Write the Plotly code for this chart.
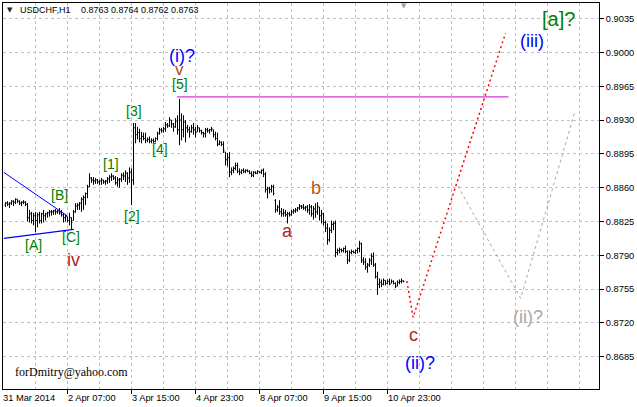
import plotly.graph_objects as go

# ---------------- data ----------------
SYMBOL = "USDCHF,H1"
LAST_QUOTE = "0.8763 0.8764 0.8762 0.8763"

# H1 bars, index 0 = 1 Apr 2014 00:00
OPEN = [
    0.8842, 0.8844, 0.8843, 0.8844, 0.8846, 0.8845, 0.8848, 0.8846, 0.8844, 0.8845,
    0.8845, 0.8843, 0.8829, 0.8833, 0.8826, 0.8831, 0.8826, 0.8832, 0.8826, 0.8833,
    0.8831, 0.8833, 0.8834, 0.8835, 0.8835, 0.8836, 0.8835, 0.8836, 0.8834, 0.8832,
    0.8829, 0.8830, 0.8826, 0.8829, 0.8826, 0.8835, 0.8841, 0.8842, 0.8844, 0.8848,
    0.8850, 0.8854, 0.8861, 0.8870, 0.8868, 0.8867, 0.8868, 0.8866, 0.8867, 0.8868,
    0.8866, 0.8867, 0.8869, 0.8871, 0.8872, 0.8870, 0.8865, 0.8868, 0.8869, 0.8873,
    0.8872, 0.8875, 0.8870, 0.8876, 0.8868, 0.8922, 0.8915, 0.8917, 0.8911, 0.8913,
    0.8911, 0.8909, 0.8910, 0.8908, 0.8909, 0.8908, 0.8911, 0.8916, 0.8920, 0.8919,
    0.8921, 0.8925, 0.8924, 0.8930, 0.8926, 0.8923, 0.8929, 0.8920, 0.8930, 0.8920,
    0.8928, 0.8922, 0.8920, 0.8918, 0.8922, 0.8920, 0.8918, 0.8922, 0.8919, 0.8917,
    0.8916, 0.8920, 0.8919, 0.8920, 0.8920, 0.8915, 0.8911, 0.8905, 0.8907, 0.8905,
    0.8897, 0.8889, 0.8891, 0.8876, 0.8878, 0.8880, 0.8883, 0.8877, 0.8876, 0.8878,
    0.8877, 0.8878, 0.8877, 0.8875, 0.8873, 0.8876, 0.8875, 0.8877, 0.8876, 0.8878,
    0.8874, 0.8858, 0.8859, 0.8858, 0.8861, 0.8847, 0.8837, 0.8840, 0.8835, 0.8833,
    0.8834, 0.8832, 0.8833, 0.8832, 0.8835, 0.8836, 0.8837, 0.8839, 0.8841, 0.8840,
    0.8839, 0.8840, 0.8837, 0.8840, 0.8833, 0.8838, 0.8835, 0.8840, 0.8831, 0.8833,
    0.8824, 0.8818, 0.8806, 0.8816, 0.8822, 0.8823, 0.8793, 0.8795, 0.8796, 0.8795,
    0.8797, 0.8794, 0.8785, 0.8793, 0.8794, 0.8793, 0.8795, 0.8797, 0.8802, 0.8785,
    0.8783, 0.8778, 0.8780, 0.8785, 0.8789, 0.8780, 0.8768, 0.8760, 0.8762, 0.8760,
    0.8764, 0.8761, 0.8763, 0.8761, 0.8763, 0.8761, 0.8758, 0.8762, 0.8763, 0.8763,
]
HIGH = [
    0.8845, 0.8846, 0.8845, 0.8847, 0.8847, 0.8849, 0.8848, 0.8847, 0.8846, 0.8847,
    0.8846, 0.8844, 0.8837, 0.8835, 0.8834, 0.8835, 0.8834, 0.8835, 0.8834, 0.8837,
    0.8834, 0.8835, 0.8837, 0.8837, 0.8837, 0.8838, 0.8837, 0.8839, 0.8837, 0.8834,
    0.8832, 0.8830, 0.8834, 0.8829, 0.8837, 0.8844, 0.8844, 0.8845, 0.8850, 0.8852,
    0.8855, 0.8863, 0.8875, 0.8871, 0.8871, 0.8870, 0.8869, 0.8868, 0.8870, 0.8868,
    0.8868, 0.8871, 0.8873, 0.8875, 0.8873, 0.8872, 0.8871, 0.8870, 0.8875, 0.8876,
    0.8878, 0.8876, 0.8881, 0.8880, 0.8927, 0.8927, 0.8923, 0.8921, 0.8918, 0.8917,
    0.8917, 0.8912, 0.8913, 0.8911, 0.8911, 0.8912, 0.8918, 0.8922, 0.8922, 0.8923,
    0.8928, 0.8927, 0.8933, 0.8930, 0.8927, 0.8932, 0.8935, 0.8952, 0.8937, 0.8935,
    0.8930, 0.8925, 0.8923, 0.8925, 0.8927, 0.8923, 0.8925, 0.8922, 0.8920, 0.8918,
    0.8922, 0.8922, 0.8921, 0.8923, 0.8920, 0.8918, 0.8917, 0.8909, 0.8908, 0.8908,
    0.8897, 0.8896, 0.8897, 0.8881, 0.8882, 0.8886, 0.8886, 0.8880, 0.8879, 0.8880,
    0.8879, 0.8879, 0.8878, 0.8877, 0.8877, 0.8877, 0.8878, 0.8877, 0.8879, 0.8880,
    0.8876, 0.8861, 0.8861, 0.8863, 0.8863, 0.8848, 0.8842, 0.8847, 0.8839, 0.8838,
    0.8837, 0.8835, 0.8835, 0.8837, 0.8838, 0.8839, 0.8840, 0.8843, 0.8842, 0.8843,
    0.8841, 0.8842, 0.8843, 0.8842, 0.8841, 0.8844, 0.8845, 0.8840, 0.8837, 0.8834,
    0.8826, 0.8823, 0.8819, 0.8826, 0.8825, 0.8826, 0.8797, 0.8798, 0.8797, 0.8798,
    0.8800, 0.8795, 0.8795, 0.8796, 0.8795, 0.8796, 0.8798, 0.8805, 0.8803, 0.8788,
    0.8787, 0.8782, 0.8787, 0.8792, 0.8793, 0.8782, 0.8773, 0.8766, 0.8765, 0.8766,
    0.8764, 0.8765, 0.8766, 0.8765, 0.8764, 0.8762, 0.8764, 0.8765, 0.8766, 0.8764,
]
LOW = [
    0.8840, 0.8841, 0.8839, 0.8842, 0.8841, 0.8843, 0.8844, 0.8842, 0.8841, 0.8843,
    0.8841, 0.8825, 0.8824, 0.8823, 0.8821, 0.8814, 0.8819, 0.8823, 0.8823, 0.8824,
    0.8826, 0.8829, 0.8830, 0.8831, 0.8832, 0.8832, 0.8833, 0.8832, 0.8830, 0.8824,
    0.8825, 0.8824, 0.8821, 0.8817, 0.8826, 0.8834, 0.8837, 0.8837, 0.8835, 0.8837,
    0.8842, 0.8849, 0.8861, 0.8865, 0.8863, 0.8864, 0.8864, 0.8863, 0.8863, 0.8864,
    0.8863, 0.8864, 0.8865, 0.8867, 0.8868, 0.8863, 0.8861, 0.8860, 0.8866, 0.8868,
    0.8866, 0.8863, 0.8865, 0.8842, 0.8863, 0.8906, 0.8910, 0.8907, 0.8906, 0.8909,
    0.8906, 0.8907, 0.8906, 0.8906, 0.8906, 0.8907, 0.8909, 0.8915, 0.8917, 0.8917,
    0.8918, 0.8922, 0.8923, 0.8922, 0.8918, 0.8922, 0.8915, 0.8904, 0.8909, 0.8912,
    0.8907, 0.8917, 0.8912, 0.8917, 0.8915, 0.8912, 0.8918, 0.8917, 0.8915, 0.8912,
    0.8912, 0.8917, 0.8916, 0.8918, 0.8912, 0.8909, 0.8903, 0.8904, 0.8903, 0.8896,
    0.8883, 0.8882, 0.8871, 0.8873, 0.8875, 0.8878, 0.8875, 0.8873, 0.8874, 0.8875,
    0.8875, 0.8876, 0.8874, 0.8871, 0.8871, 0.8874, 0.8874, 0.8875, 0.8874, 0.8871,
    0.8855, 0.8849, 0.8854, 0.8855, 0.8852, 0.8834, 0.8835, 0.8832, 0.8830, 0.8830,
    0.8830, 0.8823, 0.8830, 0.8831, 0.8833, 0.8834, 0.8835, 0.8837, 0.8838, 0.8837,
    0.8836, 0.8834, 0.8832, 0.8830, 0.8827, 0.8829, 0.8832, 0.8826, 0.8823, 0.8821,
    0.8814, 0.8801, 0.8804, 0.8813, 0.8816, 0.8788, 0.8790, 0.8792, 0.8793, 0.8793,
    0.8792, 0.8781, 0.8783, 0.8791, 0.8792, 0.8791, 0.8792, 0.8793, 0.8782, 0.8780,
    0.8775, 0.8772, 0.8778, 0.8780, 0.8778, 0.8766, 0.8749, 0.8756, 0.8757, 0.8759,
    0.8759, 0.8760, 0.8759, 0.8761, 0.8760, 0.8756, 0.8758, 0.8760, 0.8761, 0.8762,
]
CLOSE = [
    0.8844, 0.8843, 0.8844, 0.8846, 0.8845, 0.8848, 0.8846, 0.8844, 0.8845, 0.8845,
    0.8843, 0.8829, 0.8833, 0.8826, 0.8831, 0.8826, 0.8832, 0.8826, 0.8833, 0.8831,
    0.8833, 0.8834, 0.8835, 0.8835, 0.8836, 0.8835, 0.8836, 0.8834, 0.8832, 0.8829,
    0.8830, 0.8826, 0.8829, 0.8824, 0.8835, 0.8841, 0.8842, 0.8844, 0.8848, 0.8850,
    0.8854, 0.8861, 0.8870, 0.8868, 0.8867, 0.8868, 0.8866, 0.8867, 0.8868, 0.8866,
    0.8867, 0.8869, 0.8871, 0.8872, 0.8870, 0.8865, 0.8868, 0.8869, 0.8873, 0.8872,
    0.8875, 0.8870, 0.8876, 0.8868, 0.8922, 0.8915, 0.8917, 0.8911, 0.8913, 0.8911,
    0.8909, 0.8910, 0.8908, 0.8909, 0.8908, 0.8911, 0.8916, 0.8920, 0.8919, 0.8921,
    0.8925, 0.8924, 0.8930, 0.8926, 0.8923, 0.8929, 0.8920, 0.8930, 0.8920, 0.8928,
    0.8922, 0.8920, 0.8918, 0.8922, 0.8920, 0.8917, 0.8922, 0.8919, 0.8917, 0.8916,
    0.8920, 0.8919, 0.8920, 0.8921, 0.8915, 0.8911, 0.8905, 0.8907, 0.8905, 0.8899,
    0.8889, 0.8891, 0.8876, 0.8878, 0.8880, 0.8883, 0.8877, 0.8876, 0.8878, 0.8877,
    0.8878, 0.8877, 0.8875, 0.8873, 0.8876, 0.8875, 0.8877, 0.8876, 0.8878, 0.8874,
    0.8858, 0.8859, 0.8858, 0.8861, 0.8854, 0.8837, 0.8840, 0.8835, 0.8833, 0.8834,
    0.8832, 0.8833, 0.8832, 0.8835, 0.8836, 0.8837, 0.8839, 0.8841, 0.8840, 0.8839,
    0.8840, 0.8837, 0.8840, 0.8833, 0.8838, 0.8835, 0.8841, 0.8831, 0.8833, 0.8824,
    0.8818, 0.8806, 0.8816, 0.8822, 0.8823, 0.8793, 0.8795, 0.8796, 0.8795, 0.8797,
    0.8794, 0.8785, 0.8793, 0.8794, 0.8793, 0.8795, 0.8797, 0.8802, 0.8785, 0.8783,
    0.8778, 0.8780, 0.8785, 0.8789, 0.8780, 0.8768, 0.8760, 0.8762, 0.8760, 0.8764,
    0.8761, 0.8763, 0.8760, 0.8763, 0.8761, 0.8758, 0.8762, 0.8763, 0.8764, 0.8763,
]
BAR_INDEX = list(range(len(CLOSE)))

# time-axis labels (bar index of each label)
TIME_LABEL_BARS = [-1.25, 31, 63, 95, 127, 159, 191]
TIME_LABELS = ["31 Mar 2014", "2 Apr 07:00", "3 Apr 15:00", "4 Apr 23:00",
               "8 Apr 07:00", "9 Apr 15:00", "10 Apr 23:00"]
GRID_BARS = list(range(15, 290, 16))

PRICE_TICKS = [0.8685, 0.8720, 0.8755, 0.8790, 0.8825, 0.8860,
               0.8895, 0.8930, 0.8965, 0.9000, 0.9035]

# drawn objects
LEVEL_X = [85.8, 251.5]
LEVEL_Y = [0.8954, 0.8954]
CHANNEL_UP_X = [-0.85, 30.8]
CHANNEL_UP_Y = [0.88759, 0.88309]
CHANNEL_LO_X = [-0.85, 34.2]
CHANNEL_LO_Y = [0.88075, 0.88169]
PROJ_RED_X = [200.7, 203.8, 250.0]
PROJ_RED_Y = [0.87633, 0.87257, 0.90199]
PROJ_GRAY_X = [226.2, 257.6, 284.6]
PROJ_GRAY_Y = [0.88617, 0.87455, 0.89381]

# wave labels: text, bar, price, size, colour
BLUE = "#0000ff"
GREEN = "#008000"
BROWN = "#b22222"
GRAY = "#a8a8a8"
WAVE_LABELS = [
    ("(i)?", 88.25, 0.89964, 18, BLUE),
    ("v", 86.8, 0.89823, 17, "#b8481e"),
    ("[5]", 87.4, 0.89676, 14, GREEN),
    ("[3]", 64.4, 0.89390, 14, GREEN),
    ("[4]", 77.3, 0.88997, 14, GREEN),
    ("[1]", 52.5, 0.88848, 14, GREEN),
    ("[2]", 63.3, 0.88306, 14, GREEN),
    ("[B]", 27.0, 0.88520, 14, GREEN),
    ("[A]", 14.0, 0.88009, 14, GREEN),
    ("[C]", 32.8, 0.88089, 14, GREEN),
    ("iv", 33.8, 0.87856, 18, BROWN),
    ("a", 140.9, 0.88153, 18, BROWN),
    ("b", 155.25, 0.88601, 18, "#b8541e"),
    ("c", 203.9, 0.87072, 18, BROWN),
    ("(ii)?", 207.3, 0.86784, 18, BLUE),
    ("(ii)?", 261.3, 0.87266, 18, GRAY),
    ("(iii)", 263.3, 0.90124, 18, BLUE),
    ("[a]?", 276.7, 0.90351, 20, GREEN),
]

# ---------------- figure ----------------
FONT = "Liberation Sans, Arial, sans-serif"
X_RANGE = [-1.25, 296.75]
Y_RANGE = [0.865155, 0.905126]

fig = go.Figure()
fig.add_trace(go.Ohlc(
    x=BAR_INDEX, open=OPEN, high=HIGH, low=LOW, close=CLOSE,
    increasing=dict(line=dict(color="black", width=1)),
    decreasing=dict(line=dict(color="black", width=1)),
    tickwidth=0.5, showlegend=False, hoverinfo="skip",
))

def add_line(xs, ys, color, width=1, dash="solid"):
    fig.add_trace(go.Scatter(x=xs, y=ys, mode="lines",
                             line=dict(color=color, width=width, dash=dash),
                             showlegend=False, hoverinfo="skip"))

add_line(LEVEL_X, LEVEL_Y, "#d000d0", 1)
add_line(CHANNEL_UP_X, CHANNEL_UP_Y, "#0000ff", 1)
add_line(CHANNEL_LO_X, CHANNEL_LO_Y, "#0000ff", 1.2)
add_line(PROJ_RED_X, PROJ_RED_Y, "#ff0000", 1.5, "2px,3px")
add_line(PROJ_GRAY_X, PROJ_GRAY_Y, "#a8a8a8", 1, "3px,3px")

annotations = []
for text, bx, py, size, color in WAVE_LABELS:
    annotations.append(dict(x=bx, y=py, xref="x", yref="y", text=text,
                            showarrow=False, xanchor="center", yanchor="middle",
                            borderpad=0,
                            font=dict(family=FONT, size=size, color=color)))

for bx, lab in zip(TIME_LABEL_BARS, TIME_LABELS):
    annotations.append(dict(x=bx, y=0, xref="x", yref="paper", text=lab,
                            showarrow=False, xanchor="left", yanchor="middle",
                            xshift=-1, yshift=-9, borderpad=0,
                            font=dict(family=FONT, size=9.3, color="black")))

# header
annotations.append(dict(x=0.0117, y=0.981, xref="paper", yref="paper", text="▼",
                        showarrow=False, xanchor="center", yanchor="middle",
                        font=dict(family="DejaVu Sans", size=7, color="#202020")))
annotations.append(dict(x=0.026, y=0.981, xref="paper", yref="paper", text=SYMBOL,
                        showarrow=False, xanchor="left", yanchor="middle",
                        font=dict(family=FONT, size=9, color="black")))
annotations.append(dict(x=0.128, y=0.981, xref="paper", yref="paper", text=LAST_QUOTE,
                        showarrow=False, xanchor="left", yanchor="middle",
                        font=dict(family=FONT, size=9, color="black")))
annotations.append(dict(x=0.672, y=0.992, xref="paper", yref="paper", text="▼",
                        showarrow=False, xanchor="center", yanchor="middle",
                        font=dict(family="DejaVu Sans", size=7, color="#a0a0a0")))
annotations.append(dict(x=0.0165, y=0.0448, xref="paper", yref="paper",
                        text="forDmitry@yahoo.com", showarrow=False,
                        xanchor="left", yanchor="middle",
                        font=dict(family="Liberation Serif, Times New Roman, serif",
                                  size=12, color="black")))

GRID = dict(gridcolor="#c0c0c0", gridwidth=1, griddash="3px,3px")

fig.update_layout(
    width=637, height=407,
    margin=dict(l=3, r=38, t=3, b=18),
    paper_bgcolor="white", plot_bgcolor="white",
    font=dict(family=FONT, size=9.3, color="black"),
    annotations=annotations,
    xaxis=dict(range=X_RANGE, tickmode="array", tickvals=TIME_LABEL_BARS[1:],
               showticklabels=False, ticks="outside", ticklen=4,
               tickcolor="black", showgrid=True, **GRID,
               showline=True, linecolor="black", linewidth=1, mirror=True,
               zeroline=False, rangeslider=dict(visible=False), fixedrange=True,
               minor=dict(tickmode="array", tickvals=GRID_BARS, showgrid=True,
                          ticks="", **GRID)),
    yaxis=dict(range=Y_RANGE, side="right", tickmode="array",
               tickvals=PRICE_TICKS, ticktext=[f"{v:.4f}" for v in PRICE_TICKS],
               ticks="outside", ticklen=4, tickcolor="black",
               tickfont=dict(family=FONT, size=9.3, color="black"),
               showgrid=True, **GRID,
               showline=True, linecolor="black", linewidth=1, mirror=True,
               zeroline=False, fixedrange=True),
)

fig.write_html(
    "out.html",
    config={"displayModeBar": False},
    post_script="document.body.style.margin='0';document.body.style.overflow='hidden';",
)
